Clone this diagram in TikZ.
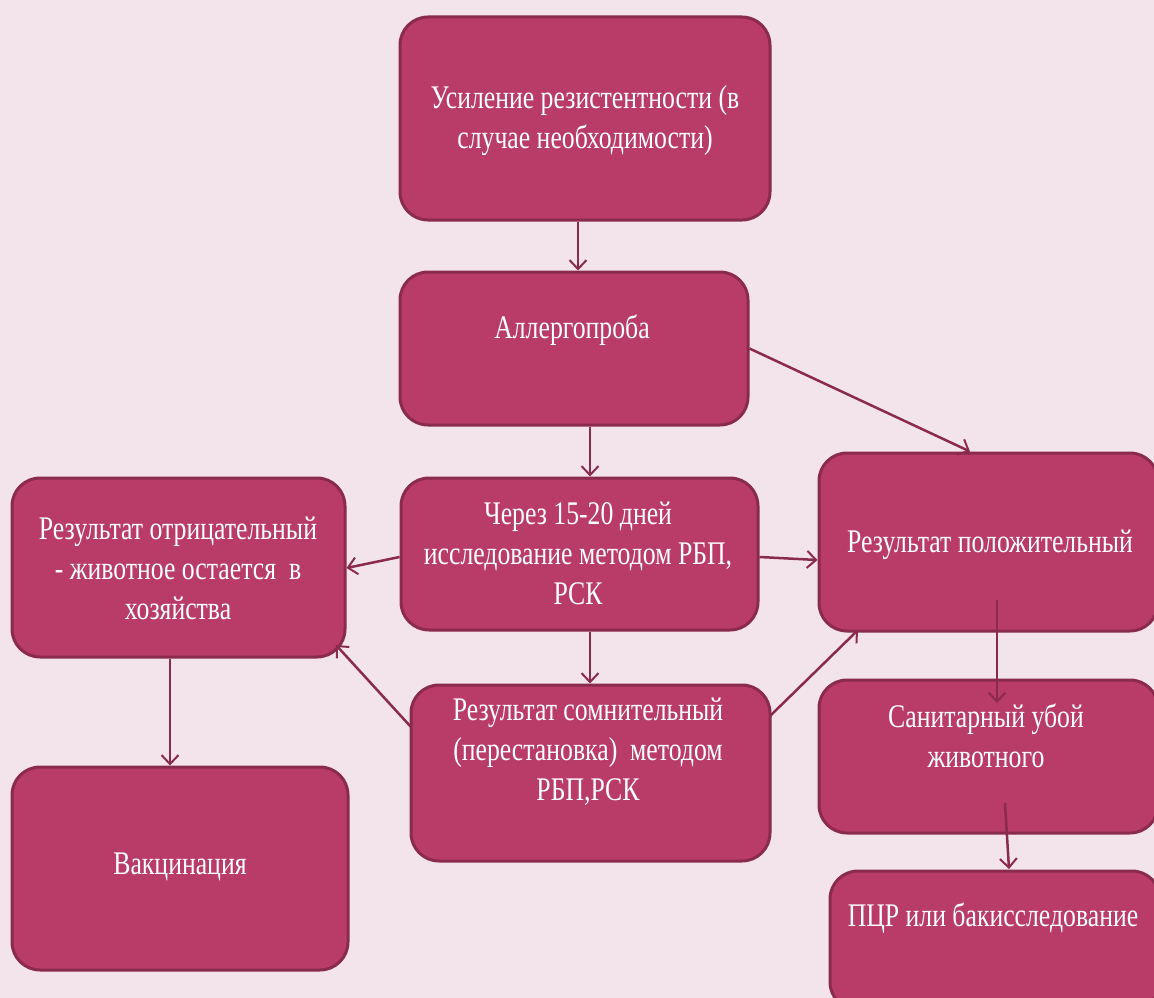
\documentclass[tikz,border=0pt]{standalone}
\usepackage{fontspec}
\newfontfamily\cf[FakeStretch=0.78]{Liberation Serif}
\usetikzlibrary{arrows.meta}
\definecolor{bg}{HTML}{F3E4EC}
\definecolor{boxfill}{HTML}{B93C68}
\definecolor{boxline}{HTML}{8A2A4C}
\tikzset{
 box/.style={draw=boxline, fill=boxfill, line width=3pt, rounded corners=28pt, inner sep=0pt},
 txt/.style={text=white, font=\cf\fontsize{33}{40}\selectfont, align=center, inner sep=0pt},
 arr/.style={draw=boxline, line width=2.5pt, -{Straight Barb[length=9pt,width=17pt,line width=2pt]}},
}
\begin{document}
\begin{tikzpicture}[x=1pt,y=-1pt]
\useasboundingbox (0,0) rectangle (1154,998);
\clip (0,0) rectangle (1154,998);
\fill[bg] (0,0) rectangle (1154,998);
% boxes
\node[box, minimum width=370pt, minimum height=203pt] (b1) at (585,118.5) {};
\node[box, minimum width=348pt, minimum height=153pt] (b2) at (574,348.5) {};
\node[box, minimum width=357pt, minimum height=152pt] (b3) at (579.5,554) {};
\node[box, minimum width=333pt, minimum height=179pt] (b4) at (178.5,567.5) {};
\node[box, minimum width=339pt, minimum height=178pt] (b5) at (988.5,542) {};
\node[box, minimum width=359pt, minimum height=176pt] (b6) at (590.5,773) {};
\node[box, minimum width=336pt, minimum height=203pt] (b7) at (180,868.5) {};
\node[box, minimum width=339pt, minimum height=153pt] (b8) at (988.5,756.5) {};
\node[box, minimum width=330pt, minimum height=139pt] (b9) at (995,940.5) {};
% texts
\node[txt] (t1) at (585,121) {Усиление резистентности (в\\случае необходимости)};
\node[txt] (t2) at (572,330) {Аллергопроба};
\node[txt] (t3) at (578,553) {Через 15-20 дней\\исследование методом РБП,\\РСК};
\node[txt] (t4) at (178,568) {Результат отрицательный\\- животное остается\ \ в\\хозяйства};
\node[txt] (t5) at (990,545) {Результат положительный};
\node[txt] (t6) at (588,752) {Результат сомнительный\\(перестановка)\ \ методом\\РБП,РСК};
\node[txt] (t7) at (180,867) {Вакцинация};
\node[txt] (t8) at (986,736) {Санитарный убой\\животного};
\node[txt] (t9) at (993,918) {ПЦР или бакисследование};
% connector end points
\coordinate (b6a) at (411,727);
\coordinate (b4a) at (336,645);
\coordinate (b6b) at (770,716);
\coordinate (b5a) at (858,630);
\coordinate (b5b) at (997,600);
\coordinate (b8a) at (997,703);
\coordinate (b8b) at (1005,803);
\coordinate (b9a) at (1009,869);
% connectors
\draw[arr] (578,0 |- b1.south) -- (578,0 |- b2.north);
\draw[arr] (590,0 |- b2.south) -- (590,0 |- b3.north);
\draw[arr] (590,0 |- b3.south) -- (590,0 |- b6.north);
\draw[arr] (b2.east) -- (970,0 |- b5.north);
\draw[arr] (b3.west |- 0,557) -- (b4.east |- 0,568);
\draw[arr] (b3.east |- 0,557) -- (b5.west |- 0,560);
\draw[arr] (b6a) -- (b4a);
\draw[arr] (b6b) -- (b5a);
\draw[arr] (b5b) -- (b8a);
\draw[arr] (b8b) -- (b9a);
\draw[arr] (170,0 |- b4.south) -- (170,0 |- b7.north);
\end{tikzpicture}
\end{document}
